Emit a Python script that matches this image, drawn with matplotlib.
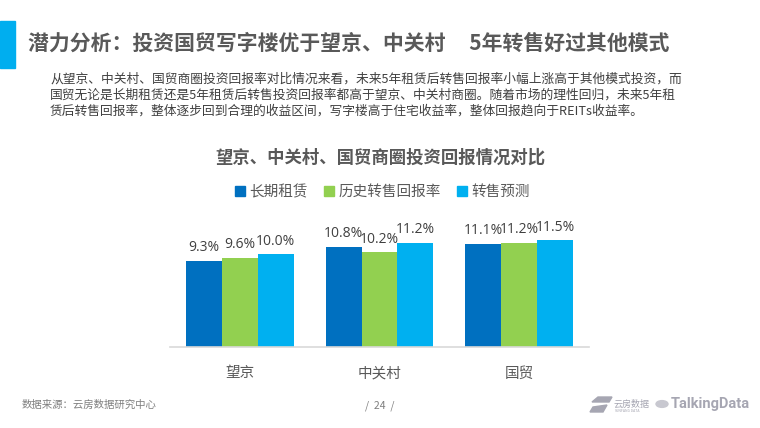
import matplotlib
matplotlib.use("Agg")
import matplotlib.pyplot as plt
import numpy as np
from matplotlib.patches import Rectangle, Polygon, Circle

plt.rcParams['font.family'] = ['Noto Sans CJK SC', 'DejaVu Sans']

categories = ['望京', '中关村', '国贸']
series_names = ['长期租赁', '历史转售回报率', '转售预测']
long_lease = [9.3, 10.8, 11.1]
hist_resale = [9.6, 10.2, 11.2]
resale_forecast = [10.0, 11.2, 11.5]
colors = ['#0070C0', '#92D050', '#00B0F0']

title = '潜力分析：投资国贸写字楼优于望京、中关村     5年转售好过其他模式'
paragraph = ['从望京、中关村、国贸商圈投资回报率对比情况来看，未来5年租赁后转售回报率小幅上涨高于其他模式投资，而',
             '国贸无论是长期租赁还是5年租赁后转售投资回报率都高于望京、中关村商圈。随着市场的理性回归，未来5年租',
             '赁后转售回报率，整体逐步回到合理的收益区间，写字楼高于住宅收益率，整体回报趋向于REITs收益率。']
chart_title = '望京、中关村、国贸商圈投资回报情况对比'
source = '数据来源：云房数据研究中心'
page = '/  24  /'

W, H = 760, 428
fig = plt.figure(figsize=(7.6, 4.28), dpi=100)

def fx(x): return x / W
def fy(y): return 1 - y / H

# left accent bar
fig.patches.append(Rectangle((0, fy(68)), fx(15), (68 - 21) / H, transform=fig.transFigure,
                             color='#00AEEF', zorder=1))
fig.text(fx(28), fy(43), title, fontsize=15, fontweight='bold', color='#595959', va='center', ha='left')

for i, line in enumerate(paragraph):
    fig.text(fx(50), fy(79 + i * 16), line, fontsize=9.2, color='#404040', va='center', ha='left')

fig.text(fx(380), fy(158), chart_title, fontsize=12.5, fontweight='bold', color='#595959', va='center', ha='center')

# axes
ax = fig.add_axes([fx(170), 1 - 347 / H, (589 - 170) / W, 130 / H])
x = np.arange(len(categories))
w = 36 / 140
data = [long_lease, hist_resale, resale_forecast]
for k, (vals, c, name) in enumerate(zip(data, colors, series_names)):
    b = ax.bar(x + (k - 1) * w, vals, width=w, color=c, label=name, zorder=2)
    ax.bar_label(b, labels=[f'{v:.1f}%' for v in vals], padding=4, fontsize=10, color='#404040',
                 family=['Open Sans', 'DejaVu Sans'])
ax.set_xlim(-0.5, 2.5)
ax.set_ylim(0, 14)
ax.set_yticks([])
ax.set_xticks(x)
ax.set_xticklabels(categories, fontsize=10.5, color='#595959')
ax.tick_params(axis='x', length=0, pad=14)
for s in ['top', 'right', 'left']:
    ax.spines[s].set_visible(False)
ax.spines['bottom'].set_color('#D9D9D9')
ax.spines['bottom'].set_linewidth(1.2)
ax.patch.set_alpha(0)

handles = [plt.Line2D([], [], marker='s', linestyle='none', markersize=6.5, color=c) for c in colors]
leg = fig.legend(handles, series_names, loc='center', bbox_to_anchor=(fx(382), fy(192)), ncol=3,
                 frameon=False, fontsize=10.5, handletextpad=0.2, columnspacing=1.1, handlelength=0.8)
for t in leg.get_texts():
    t.set_color('#595959')

# footer
fig.text(fx(22), fy(405), source, fontsize=7.5, color='#7F7F7F', va='center', ha='left')
fig.text(fx(380), fy(406), page, fontsize=7.5, color='#7F7F7F', va='center', ha='center')

# simple logos
fig.patches.append(Polygon([(fx(592), fy(402)), (fx(598), fy(397)), (fx(612), fy(397)), (fx(609), fy(402))],
                           closed=True, transform=fig.transFigure, color='#A6A6B2'))
fig.patches.append(Polygon([(fx(590), fy(412)), (fx(593), fy(407)), (fx(607), fy(405)), (fx(603), fy(412))],
                           closed=True, transform=fig.transFigure, color='#A6A6B2'))
fig.text(fx(614), fy(404), '云房数据', fontsize=6.5, color='#A6A6B2', va='center', ha='left')
fig.text(fx(614), fy(411), 'YUNFANG DATA', fontsize=2.5, color='#A6A6B2', va='center', ha='left')
fig.patches.append(Circle((fx(662), fy(404)), 6 / W, transform=fig.transFigure, color='#C8C8D0'))
fig.text(fx(671), fy(404), 'TalkingData', fontsize=10.5, fontweight='bold', color='#A6A6B2', va='center', ha='left',
         family=['Roboto', 'DejaVu Sans'], fontstretch='condensed')

fig.savefig('out.png', dpi=100)
